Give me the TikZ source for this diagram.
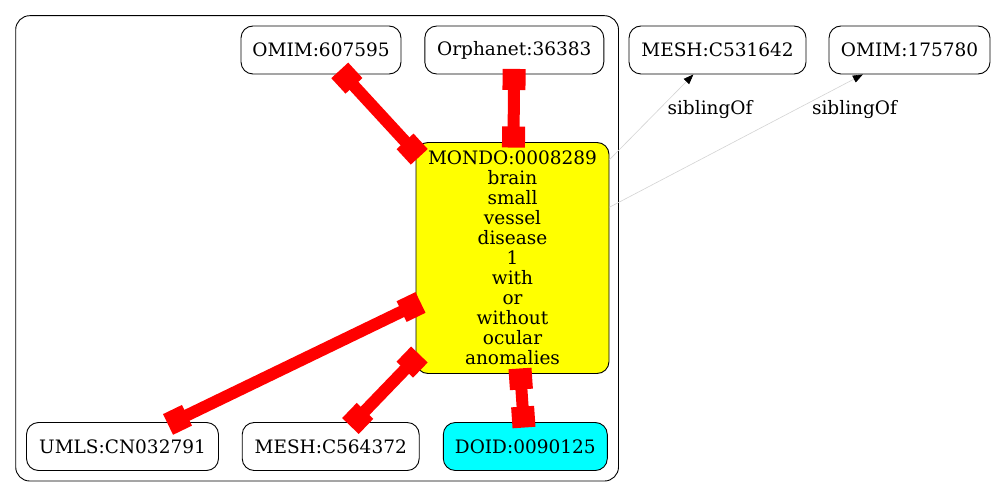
\documentclass[tikz,border=0pt]{standalone}
\usepackage{fontspec}
\setmainfont{DejaVu Serif}
\usetikzlibrary{arrows.meta}
\definecolor{siblinggray}{HTML}{D3D3D3}
\definecolor{xrefred}{RGB}{255,0,0}
\definecolor{mondoyellow}{RGB}{255,255,0}
\definecolor{doidcyan}{RGB}{0,255,255}

\begin{document}
\begin{tikzpicture}[
	term/.style={draw, rounded corners=12pt, line width=0.9pt, minimum height=48pt, inner sep=0pt, font=\fontsize{18.5pt}{20pt}\selectfont},
	xref/.style={draw=xrefred, line width=12pt, arrows={Square[length=21pt,width=23pt]-Square[length=21pt,width=23pt]}, shorten <=-5.5pt, shorten >=-5.5pt},
	sibling/.style={draw=siblinggray, line width=0.6pt, arrows={-Triangle[length=10pt,width=7.5pt,color=black]}},
	lbl/.style={inner sep=0pt, font=\fontsize{18.5pt}{20pt}\selectfont}
]
	\useasboundingbox (0,0) rectangle (995pt,-497pt);
	\draw[line width=0.9pt, rounded corners=14pt] (15.7pt,-15.7pt) rectangle (618.5pt,-481pt);

	\node[term, minimum width=160pt] (omimA) at (321pt,-50pt) {OMIM:607595};
	\node[term, minimum width=179pt] (orpha) at (514.3pt,-50pt) {Orphanet:36383};
	\node[term, minimum width=177pt] (meshA) at (717.5pt,-50pt) {MESH:C531642};
	\node[term, minimum width=161pt] (omimB) at (909.5pt,-50pt) {OMIM:175780};
	\node[term, fill=mondoyellow, minimum width=193pt, minimum height=231pt, align=center] (mondo) at (512.5pt,-258pt)
		{MONDO:0008289\\brain\\small\\vessel\\disease\\1\\with\\or\\without\\ocular\\anomalies};
	\node[term, minimum width=192pt] (umls) at (122.5pt,-446.5pt) {UMLS:CN032791};
	\node[term, minimum width=177pt] (meshB) at (330.7pt,-446.5pt) {MESH:C564372};
	\node[term, fill=doidcyan, minimum width=164pt] (doid) at (525.3pt,-446.5pt) {DOID:0090125};

	\draw[xref] (omimA) -- (mondo);
	\draw[xref] (orpha) -- (mondo);
	\draw[xref] (mondo) -- (umls);
	\draw[xref] (mondo) -- (meshB);
	\draw[xref] (mondo) -- (doid);

	\draw[sibling] (mondo) -- (meshA);
	\draw[sibling] (mondo) -- (omimB);
	\node[lbl] (sibA) at (710pt,-109.5pt) {siblingOf};
	\node[lbl] (sibB) at (854.5pt,-109.5pt) {siblingOf};
\end{tikzpicture}
\end{document}
